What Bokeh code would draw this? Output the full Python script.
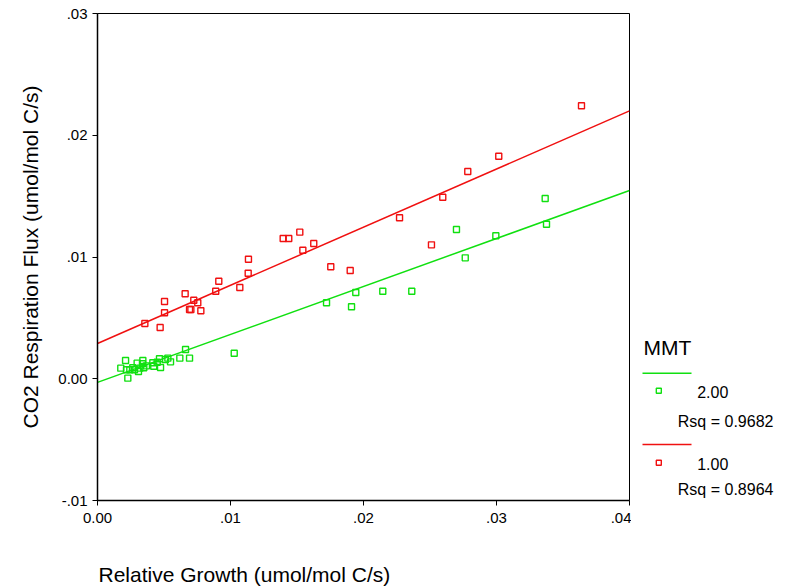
from bokeh.plotting import figure
from bokeh.models import Range1d, FixedTicker
from bokeh.layouts import row, column
from bokeh.embed import file_html
from bokeh.resources import INLINE
from bokeh.core.properties import value

# ---------------- data ----------------
red_x = [0.03639, 0.03017, 0.02784, 0.02596, 0.02271, 0.02511, 0.01521, 0.01396,
         0.01438, 0.01626, 0.01544, 0.01754, 0.01900, 0.01135, 0.01133, 0.00912,
         0.01070, 0.00889, 0.00659, 0.00504, 0.00724, 0.00754, 0.00692, 0.00702,
         0.00777, 0.00504, 0.00356, 0.00471]
red_y = [0.02242, 0.01828, 0.01702, 0.01491, 0.01322, 0.01100, 0.01204, 0.01152,
         0.01152, 0.01111, 0.01056, 0.00920, 0.00889, 0.00982, 0.00867, 0.00801,
         0.00749, 0.00719, 0.00698, 0.00634, 0.00645, 0.00624, 0.00569, 0.00569,
         0.00558, 0.00542, 0.00454, 0.00421]

green_x = [0.03366, 0.03376, 0.02699, 0.02995, 0.02765, 0.01722, 0.01942, 0.02145,
           0.02363, 0.01910, 0.01028, 0.00662, 0.00619, 0.00692, 0.00549, 0.00529,
           0.00511, 0.00466, 0.00449, 0.00474, 0.00416, 0.00423, 0.00341, 0.00338,
           0.00298, 0.00318, 0.00348, 0.00211, 0.00265, 0.00243, 0.00175, 0.00218,
           0.00308, 0.00228, 0.00278, 0.00368]
green_y = [0.01481, 0.01269, 0.01226, 0.01174, 0.00993, 0.00624, 0.00708, 0.00719,
           0.00719, 0.00591, 0.00210, 0.00240, 0.00169, 0.00169, 0.00139, 0.00169,
           0.00158, 0.00164, 0.00136, 0.00092, 0.00131, 0.00103, 0.00150, 0.00123,
           0.00128, 0.00087, 0.00090, 0.00150, 0.00090, 0.00074, 0.00087, 0.00074,
           0.00060, 0.00005, 0.00074, 0.00106]

fit_x = [0.0, 0.04]
green_fit_y = [-0.0003, 0.01546]
red_fit_y = [0.0029, 0.0220]

x_ticks = [0.0, 0.01, 0.02, 0.03, 0.04]
x_tick_labels = ["0.00", ".01", ".02", ".03", ".04"]
y_ticks = [-0.01, 0.0, 0.01, 0.02, 0.03]
y_tick_labels = ["-.01", "0.00", ".01", ".02", ".03"]

x_title = "Relative Growth (umol/mol C/s)"
y_title = "CO2 Respiration Flux (umol/mol C/s)"
legend_title = "MMT"
group_labels = ["2.00", "1.00"]
rsq_labels = ["Rsq = 0.9682", "Rsq = 0.8964"]

GREEN = "#10e010"
RED = "#f01010"
FONT = "Liberation Sans"
H = 540        # height of plot + legend row
HB = 46        # height of the strip holding the x title
W_MAIN = 631
W_LEG = 154
FRAME_TOP = 13
FRAME_BOTTOM = 500
TEXT_SHIFT = -7.5   # rendered text sits lower than its nominal baseline


def blank(fig):
    fig.axis.visible = False
    fig.xgrid.visible = False
    fig.ygrid.visible = False
    fig.outline_line_color = None
    fig.background_fill_color = "white"
    fig.border_fill_color = "white"


# ---------------- main plot ----------------
p = figure(width=W_MAIN, height=H, x_range=Range1d(0.0, 0.04), y_range=Range1d(-0.01, 0.03),
           output_backend="svg", toolbar_location=None,
           min_border_left=97, min_border_right=2, min_border_top=FRAME_TOP,
           min_border_bottom=H - FRAME_BOTTOM)
p.xgrid.visible = False
p.ygrid.visible = False
p.outline_line_color = "black"
p.outline_line_width = 1
p.background_fill_color = "white"
p.border_fill_color = "white"

p.line(fit_x, green_fit_y, line_color=GREEN, line_width=1.5)
p.line(fit_x, red_fit_y, line_color=RED, line_width=1.5)
p.scatter(green_x, green_y, marker="square", size=6, fill_color=None,
          line_color=GREEN, line_width=1.4)
p.scatter(red_x, red_y, marker="square", size=6, fill_color=None,
          line_color=RED, line_width=1.4)

p.xaxis.ticker = FixedTicker(ticks=x_ticks)
p.yaxis.ticker = FixedTicker(ticks=y_ticks)
p.xaxis.major_label_overrides = dict(zip(x_ticks, x_tick_labels))
p.yaxis.major_label_overrides = dict(zip(y_ticks, y_tick_labels))

for ax in (p.xaxis[0], p.yaxis[0]):
    ax.minor_tick_line_color = None
    ax.major_tick_in = 0
    ax.major_tick_out = 5
    ax.major_tick_line_color = "black"
    ax.axis_line_color = "black"
    ax.axis_line_width = 1.5
    ax.major_label_text_font = FONT
    ax.major_label_text_font_size = "15px"
    ax.major_label_text_color = "black"
    ax.axis_label_text_font = FONT
    ax.axis_label_text_font_size = "21px"
    ax.axis_label_text_font_style = "normal"
    ax.axis_label_text_color = "black"

p.yaxis.major_label_orientation = "horizontal"
p.yaxis.axis_label = y_title
p.xaxis.major_label_standoff = 7
p.yaxis.major_label_standoff = 5
p.yaxis.axis_label_standoff = 13

# ---------------- legend panel (its frame is aligned with the plot frame) ----------------
leg = figure(width=W_LEG, height=H, x_range=Range1d(0, W_LEG),
             y_range=Range1d(FRAME_BOTTOM, FRAME_TOP),
             output_backend="svg", toolbar_location=None,
             min_border_left=0, min_border_right=0, min_border_top=FRAME_TOP,
             min_border_bottom=H - FRAME_BOTTOM)
blank(leg)

colors = [GREEN, RED]
line_y = [372.7, 444.0]
sq_y = [390.3, 462.3]
title_y = [354 + TEXT_SHIFT]
lab_y = [399.3 + TEXT_SHIFT, 470.7 + TEXT_SHIFT]
rsq_y = [428.3 + TEXT_SHIFT, 496.5 + TEXT_SHIFT]

leg.text(x=[12], y=title_y, text=[legend_title], text_font=value(FONT),
         text_font_size="21px", text_color="black", text_baseline="alphabetic")
leg.segment(x0=[11, 11], y0=line_y, x1=[60, 60], y1=line_y, line_color=colors, line_width=1.5)
leg.scatter(x=[27.3, 27.3], y=sq_y, marker="square", size=5, fill_color=None,
            line_color=colors, line_width=1.4)
leg.text(x=[65.7, 65.7], y=lab_y, text=group_labels, text_font=value(FONT),
         text_font_size="16px", text_color="black", text_baseline="alphabetic")
leg.text(x=[46.3, 46.3], y=rsq_y, text=rsq_labels, text_font=value(FONT),
         text_font_size="16px", text_color="black", text_baseline="alphabetic")

# ---------------- x title strip (left-aligned under the x axis start) ----------------
bot = figure(width=W_MAIN + W_LEG, height=HB, x_range=Range1d(0, W_MAIN + W_LEG),
             y_range=Range1d(HB, 0), output_backend="svg", toolbar_location=None,
             min_border_left=0, min_border_right=0, min_border_top=0, min_border_bottom=0)
blank(bot)
bot.text(x=[98], y=[33.7], text=[x_title], text_font=value(FONT), text_font_size="21px",
         text_color="black", text_baseline="alphabetic")

layout = column(row(p, leg, spacing=0), bot, spacing=0)
open("out.html", "w").write(file_html(layout, INLINE))
